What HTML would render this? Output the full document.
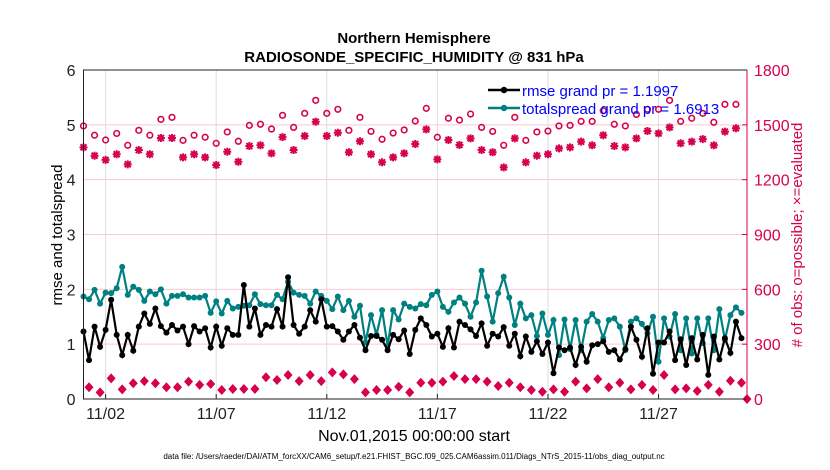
<!DOCTYPE html>
<html><head><meta charset="utf-8"><style>
body{margin:0;background:#fff;}
svg{display:block;font-family:"Liberation Sans",sans-serif;}
</style></head><body>
<svg id="chart" width="830" height="470" viewBox="0 0 830 470">
<text x="414" y="43" text-anchor="middle" font-size="15" font-weight="bold">Northern Hemisphere</text>
<text x="414" y="62" text-anchor="middle" font-size="15" font-weight="bold">RADIOSONDE_SPECIFIC_HUMIDITY @ 831 hPa</text>
<g id="grid"></g><g id="marks"></g><g id="axes"></g>
<text transform="translate(62,235) rotate(-90)" text-anchor="middle" font-size="15">rmse and totalspread</text>
<text transform="translate(802,235) rotate(-90)" text-anchor="middle" font-size="15" fill="#d6004f"># of obs: o=possible; ×=evaluated</text>
<text x="414" y="441" text-anchor="middle" font-size="16">Nov.01,2015 00:00:00 start</text>
<text x="414" y="459" text-anchor="middle" font-size="8">data file: /Users/raeder/DAI/ATM_forcXX/CAM6_setup/f.e21.FHIST_BGC.f09_025.CAM6assim.011/Diags_NTrS_2015-11/obs_diag_output.nc</text>
<g>
<line x1="488" y1="90" x2="520" y2="90" stroke="#000" stroke-width="2.5"/><circle cx="504" cy="90" r="3.2" fill="#000"/>
<text x="522" y="96" font-size="15" fill="#0000ff">rmse grand pr = 1.1997</text>
<line x1="488" y1="108" x2="520" y2="108" stroke="#008080" stroke-width="2.5"/><circle cx="504" cy="108" r="3.2" fill="#008080"/>
<text x="522" y="114" font-size="15" fill="#0000ff">totalspread grand pr = 1.6913</text>
</g>
</svg>
<script>
const rmse=[1.23,0.71,1.32,0.95,1.26,1.81,1.17,0.80,1.17,0.88,1.32,1.56,1.37,1.65,1.33,1.21,1.35,1.25,1.32,1.00,1.33,1.23,1.29,0.94,1.32,0.97,1.29,1.17,1.17,2.08,1.32,1.65,1.17,1.35,1.32,1.64,1.32,2.22,1.35,1.19,1.32,1.62,1.41,1.82,1.32,1.33,1.23,1.08,1.23,1.35,1.12,0.89,1.15,1.15,1.08,0.89,1.17,1.09,1.25,0.82,
1.26,1.47,1.35,1.14,1.19,0.95,1.29,0.94,1.41,1.35,1.27,1.15,1.38,0.97,1.19,1.14,1.31,0.97,1.19,0.78,1.14,0.86,1.05,0.82,1.03,0.47,0.94,0.89,0.94,0.62,0.95,0.68,0.98,1.00,1.05,0.86,0.89,0.72,0.91,1.32,1.08,0.77,1.29,0.46,1.03,1.03,1.23,0.71,1.09,0.62,1.11,0.72,1.17,0.44,1.14,0.72,1.11,0.84,1.41,1.11];
const spread=[1.87,1.82,1.99,1.74,1.94,1.93,2.02,2.41,1.90,2.05,1.99,1.79,1.96,1.91,2.00,1.74,1.88,1.88,1.91,1.85,1.85,1.85,1.88,1.57,1.78,1.56,1.79,1.65,1.68,1.70,1.71,1.91,1.73,1.71,1.71,1.90,1.82,2.14,1.94,1.90,1.88,1.74,1.96,1.88,1.79,1.64,1.87,1.62,1.79,1.50,1.70,1.03,1.53,1.17,1.62,0.97,1.62,1.45,1.74,1.68,
1.65,1.73,1.71,1.90,1.96,1.68,1.59,1.76,1.85,1.74,1.50,1.76,2.34,1.87,1.41,1.93,2.23,1.85,1.35,1.74,1.47,1.53,1.15,1.56,1.17,1.44,0.80,1.45,0.91,1.44,0.89,1.41,1.55,1.41,1.11,1.44,1.47,1.32,0.89,1.41,1.47,1.37,1.20,1.50,0.68,1.47,1.14,1.55,0.89,1.47,0.83,1.47,1.02,1.47,0.89,1.64,1.08,1.53,1.67,1.57];
const possible=[1494,1443,1417,1453,1388,1470,1443,1530,1541,1415,1443,1432,1399,1461,1410,1497,1503,1477,1552,1486,1563,1634,1563,1585,1470,1541,1464,1421,1455,1472,1521,
1590,1432,1536,1526,1559,1486,1464,1388,1541,1415,1461,1466,1494,1497,1519,1519,1577,1503,1494,1557,1585,1585,1634,1519,1536,1563,1514,1612,1612];
const evaluated=[1377,1331,1308,1339,1284,1362,1339,1428,1428,1322,1339,1322,1280,1353,1298,1384,1388,1344,1433,1362,1439,1517,1439,1457,1350,1410,1339,1295,1322,1344,1395,
1475,1311,1417,1390,1426,1362,1350,1267,1426,1295,1331,1339,1371,1377,1408,1388,1443,1384,1377,1426,1466,1453,1486,1399,1408,1422,1388,1463,1481];
const offsetObs=[64,36,113,53,86,98,86,64,64,95,77,82,49,55,55,55,119,104,131,98,131,98,146,135,109,36,49,49,67,36,
89,89,95,126,109,109,95,71,89,64,49,40,53,40,95,58,109,64,89,53,77,49,131,53,58,44,77,40,100,89,0];
const xTickLabels=["11/02","11/07","11/12","11/17","11/22","11/27"];
const xTickDays=[1,6,11,16,21,26];
const leftTicks=[0,1,2,3,4,5,6];
const rightTicks=[0,300,600,900,1200,1500,1800];

const L=83.5,R=747,T=70,B=399,NS="http://www.w3.org/2000/svg";
const x=d=>L+d/30*(R-L);
const yl=v=>B-v/6*(B-T);
const yr=v=>B-v/1800*(B-T);
const grid=document.getElementById('grid'),marks=document.getElementById('marks'),axes=document.getElementById('axes');
function mk(tag,attrs,parent){const e=document.createElementNS(NS,tag);for(const k in attrs)e.setAttribute(k,attrs[k]);parent.appendChild(e);return e;}

leftTicks.forEach((v,i)=>{
 if(v>0&&v<6){const g=mk('line',{x1:L,x2:R,y1:yl(v),y2:yl(v),stroke:'#f5c9d6','stroke-width':1},grid);
 
 }
 const t=mk('text',{x:L-8,y:yl(v)+6,'text-anchor':'end','font-size':16,fill:'#222'},axes);t.textContent=v;
 
 
 const r=mk('text',{x:R+7,y:yr(rightTicks[i])+6,'font-size':16,fill:'#d6004f'},axes);r.textContent=rightTicks[i];
 
 
 mk('line',{x1:R,x2:R-5,y1:yr(rightTicks[i]),y2:yr(rightTicks[i]),stroke:'#d6004f'},axes);
});
xTickDays.forEach((d,i)=>{
 const g=mk('line',{x1:x(d),x2:x(d),y1:T,y2:B,stroke:'#dcdcdc','stroke-width':1},grid);
 
 
 mk('line',{x1:x(d),x2:x(d),y1:B,y2:B-5,stroke:'#222'},axes);
 const t=mk('text',{x:x(d),y:419,'text-anchor':'middle','font-size':16,fill:'#222'},axes);t.textContent=xTickLabels[i];
 
 
});
const box=mk('path',{d:`M${R},${T}H${L}V${B}H${R}`,fill:'none',stroke:'#222','stroke-width':1},axes);


const ra=mk('line',{x1:R,x2:R,y1:T,y2:B,stroke:'#d6004f','stroke-width':1},axes);



function series(vals,color,name){
 const pts=vals.map((v,i)=>x(i*0.25).toFixed(1)+','+yl(v).toFixed(1)).join(' ');
 const p=mk('polyline',{points:pts,fill:'none',stroke:color,'stroke-width':2.2},marks);
 
 
 vals.forEach((v,i)=>{const c=mk('circle',{cx:x(i*0.25),cy:yl(v),r:3,fill:color},marks);
 
 });
}
possible.forEach((v,i)=>{const c=mk('circle',{cx:x(i*0.5),cy:yr(v),r:2.8,fill:'none',stroke:'#d6004f','stroke-width':1.6},marks);
 
 });
evaluated.forEach((v,i)=>{const cx=x(i*0.5),cy=yr(v);
 const g=mk('path',{d:`M${cx-4},${cy}H${cx+4}M${cx},${cy-4}V${cy+4}M${cx-3},${cy-3}L${cx+3},${cy+3}M${cx-3},${cy+3}L${cx+3},${cy-3}`,stroke:'#d6004f','stroke-width':2},marks);
 
 });
offsetObs.forEach((v,i)=>{const d=i<60?0.25+i*0.5:30;const cx=x(d),cy=yr(v);
 const g=mk('path',{d:`M${cx},${cy-5}L${cx+4.5},${cy}L${cx},${cy+5}L${cx-4.5},${cy}Z`,fill:'#d6004f'},marks);
 
 });
series(spread,'#008080','totalspread');
series(rmse,'#000000','rmse');
</script>
</body></html>
